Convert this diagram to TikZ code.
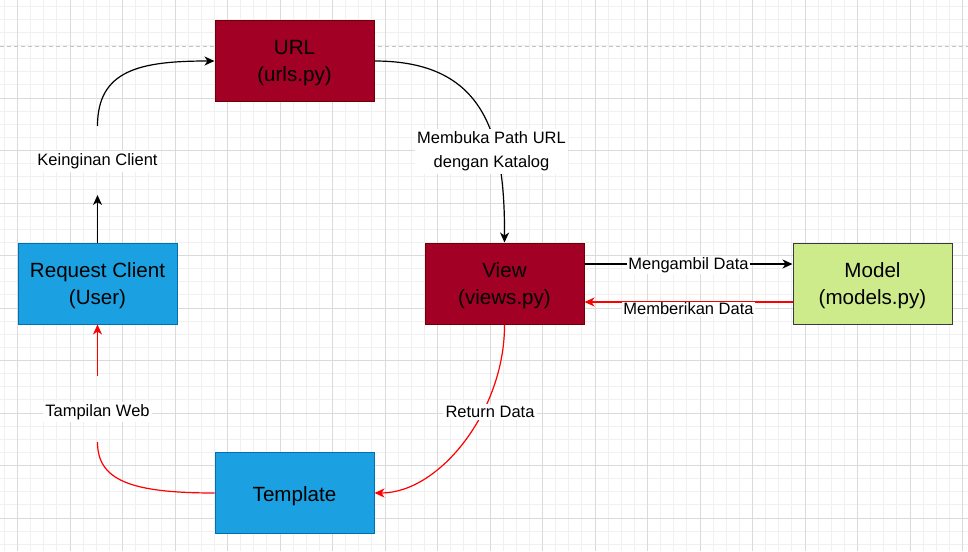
\documentclass[tikz,border=0pt]{standalone}
\usepackage{fontspec}
\setmainfont{Liberation Sans}
\usetikzlibrary{arrows.meta}
\definecolor{redfill}{HTML}{A20025}
\definecolor{redline}{HTML}{6F0000}
\definecolor{bluefill}{HTML}{1BA1E2}
\definecolor{blueline}{HTML}{006EAF}
\definecolor{greenfill}{HTML}{CDEB8B}
\definecolor{greenline}{HTML}{36393D}
\definecolor{minorgrid}{HTML}{F0F0F0}
\definecolor{majorgrid}{HTML}{DADADA}
\definecolor{pageline}{HTML}{C4C4C4}
\definecolor{edgered}{HTML}{FF0000}
\begin{document}
\begin{tikzpicture}[x=1pt,y=-1pt,
  box/.style={draw, line width=1pt, minimum width=159pt, minimum height=81pt, inner sep=0pt},
  boxtext/.style={inner sep=0pt, align=center, font=\fontsize{20.6}{27}\selectfont, text=black},
  redbox/.style={box, fill=redfill, draw=redline},
  bluebox/.style={box, fill=bluefill, draw=blueline},
  greenbox/.style={box, fill=greenfill, draw=greenline},
  lbl/.style={fill=white, align=center, font=\fontsize{16.5}{24}\selectfont, inner sep=2.5pt, text=black},
  conn/.style={line width=1.2pt, draw=black},
  redconn/.style={line width=1.2pt, draw=edgered},
  tip/.style={-{Stealth[length=10pt,width=9pt,inset=3pt]}},
]
\useasboundingbox (0,0) rectangle (968,551);
\fill[white] (0,0) rectangle (968,551);
\begin{scope}
\clip (0,0) rectangle (968,551);
\foreach \i in {0,...,73} { \draw[minorgrid, line width=0.8pt] (4.375+13.125*\i,0) -- (4.375+13.125*\i,551); }
\foreach \i in {0,...,41} { \draw[minorgrid, line width=0.8pt] (0,6.125+13.125*\i) -- (968,6.125+13.125*\i); }
\foreach \i in {0,...,18} { \draw[majorgrid, line width=0.9pt] (17.5+52.5*\i,0) -- (17.5+52.5*\i,551); }
\foreach \i in {2,...,10} { \draw[majorgrid, line width=0.9pt] (0,-7+52.5*\i) -- (968,-7+52.5*\i); }
\draw[pageline, dash pattern=on 4pt off 3pt, line width=1pt] (0,46.5) -- (968,46.5);
\end{scope}

\node[redbox] (url) at (294.5,61) {};
\node[bluebox] (rc) at (97.5,283.5) {};
\node[redbox] (view) at (504.5,283.5) {};
\node[greenbox] (model) at (872.5,283.5) {};
\node[bluebox] (tpl) at (294.5,493) {};
\node[boxtext] (urlt) at ([yshift=-2.5pt]url.center) {URL\\(urls.py)};
\node[boxtext] (rct) at ([yshift=-2.5pt]rc.center) {Request Client\\(User)};
\node[boxtext] (viewt) at ([yshift=-2.5pt]view.center) {View\\(views.py)};
\node[boxtext] (modelt) at ([yshift=-2.5pt]model.center) {Model\\(models.py)};
\node[boxtext] (tplt) at ([yshift=-3pt]tpl.center) {Template};

\coordinate (kcTop) at (97.5,126);
\coordinate (kcBot) at (97.5,195);
\coordinate (twTop) at (97.5,376);
\coordinate (twBot) at (97.5,442);

\draw[conn,tip] (rc.north) -- (kcBot);
\draw[conn,tip] (kcTop) .. controls (97.5,70) and (140,61) .. (url.west);
\node[lbl] (kc) at (97.5,161.5) {Keinginan Client};

\draw[conn,tip] (url.east) .. controls (484,61) and (505,133) .. (view.north);
\node[lbl] (mp) at (491.5,151.5) {Membuka Path URL\\dengan Katalog};

\draw[conn,tip] ([yshift=19.5pt]view.east) -- ([yshift=19.5pt]model.west)
  node[lbl, midway, yshift=-1pt, inner sep=1pt] (md) {Mengambil Data};
\draw[redconn,tip] ([yshift=-18.5pt]model.west) -- ([yshift=-18.5pt]view.east)
  node[lbl, midway, yshift=-7pt, inner sep=1pt] (bd) {Memberikan Data};

\draw[redconn,tip] (view.south) .. controls (505,410) and (440,493) .. (tpl.east);
\node[lbl] (rd) at (490,412) {Return Data};

\draw[redconn] (tpl.west) .. controls (130,493) and (97.5,480) .. (twBot);
\draw[redconn,tip] (twTop) -- (rc.south);
\node[lbl] (tw) at (97.5,412) {Tampilan Web};
\end{tikzpicture}
\end{document}
